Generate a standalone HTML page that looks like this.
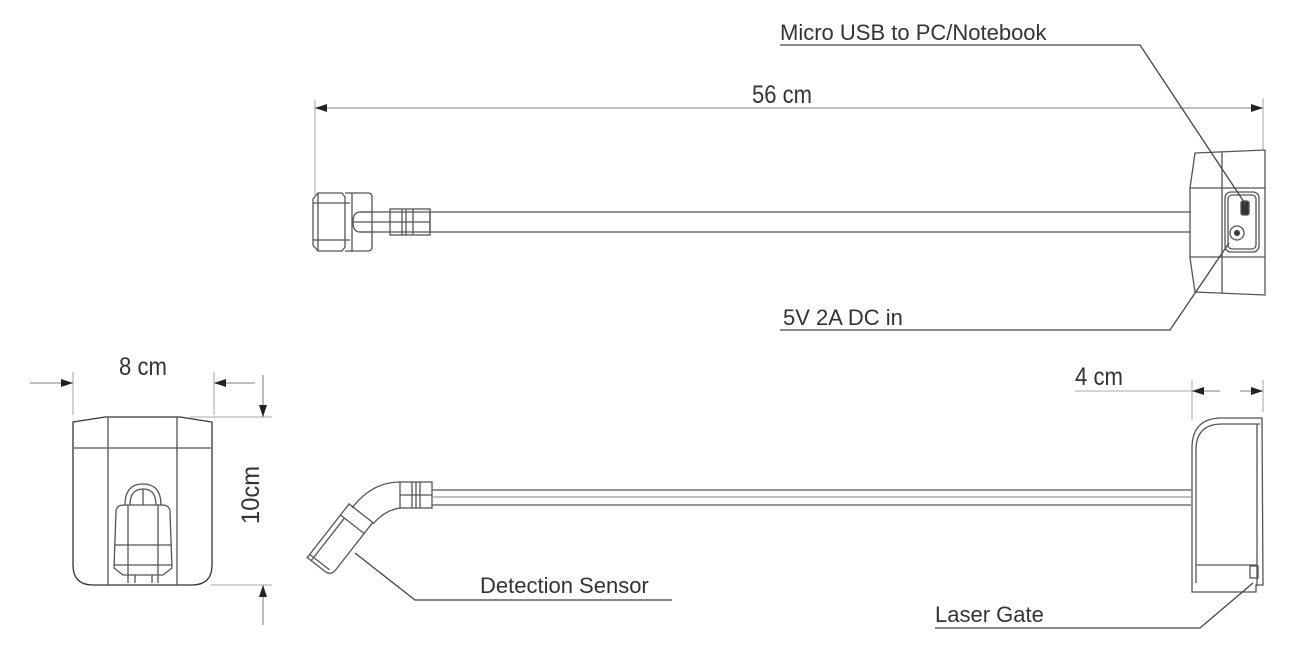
<!DOCTYPE html>
<html><head><meta charset="utf-8"><style>
html,body{margin:0;padding:0;background:#fff;width:1296px;height:646px;overflow:hidden}
text{font-family:"Liberation Sans",sans-serif;font-size:22px;fill:#333}
.d{font-size:25px}
</style></head><body>
<svg width="1296" height="646" viewBox="0 0 1296 646" xmlns="http://www.w3.org/2000/svg">
<defs>
<marker id="a" markerWidth="12" markerHeight="8" refX="12" refY="4" orient="auto-start-reverse" markerUnits="userSpaceOnUse"><path d="M0,0 L12,4 L0,8 z" fill="#222"/></marker>
</defs>
<g fill="none" stroke="#555" stroke-width="1.3">
<line x1="315" y1="100" x2="315" y2="195" stroke="#bbb"/>
<line x1="1263" y1="98" x2="1263" y2="150" stroke="#bbb"/>
<line x1="315" y1="108" x2="1263" y2="108" stroke="#999" marker-start="url(#a)" marker-end="url(#a)"/>
<path d="M318,193 L342,193 L345,197 L345,247 L342,251 L318,251 L313,245 L313,199 Z"/>
<line x1="313" y1="203" x2="350" y2="203"/><line x1="313" y1="240" x2="350" y2="240"/>
<line x1="318" y1="193" x2="318" y2="251"/><line x1="352" y1="193" x2="352" y2="252"/>
<path d="M345,193 L368,193 Q372,193 372,197 L372,247 Q372,251 368,251 L345,251"/>
<path d="M372,212 L360,212 Q353,212 353,222 Q353,232 360,232 L372,232"/>
<path d="M360,212 L430,212 L430,232 L360,232"/>
<rect x="390" y="209" width="40" height="26"/>
<line x1="402" y1="209" x2="402" y2="235"/><line x1="406" y1="209" x2="406" y2="235"/><line x1="413" y1="209" x2="413" y2="235"/>
<line x1="353" y1="222" x2="430" y2="222"/>
<line x1="430" y1="212" x2="1191" y2="212"/><line x1="430" y1="232" x2="1191" y2="232"/>
<path d="M1195,153 L1265,150 L1265,295 L1195,292 L1190,258 L1190,188 Z"/>
<line x1="1190" y1="188" x2="1265" y2="188"/><line x1="1190" y1="257" x2="1265" y2="257"/>
<line x1="1222" y1="152" x2="1222" y2="293"/>
<rect x="1225" y="192" width="34" height="60" rx="6"/>
<rect x="1228" y="195" width="28" height="54" rx="4"/>
<rect x="1241" y="201" width="8" height="14" rx="2" fill="#333"/>
<circle cx="1237" cy="233" r="7"/><circle cx="1237" cy="233" r="2.5" fill="#333"/>
<polyline points="780,45 1140,45 1246,205" stroke="#444"/>
<polyline points="780,330 1170,330 1229,243" stroke="#444"/>
<line x1="73" y1="372" x2="73" y2="415" stroke="#bbb"/>
<line x1="214" y1="372" x2="214" y2="415" stroke="#bbb"/>
<line x1="30" y1="383" x2="73" y2="383" stroke="#999" marker-end="url(#a)"/>
<line x1="255" y1="383" x2="214" y2="383" stroke="#999" marker-end="url(#a)"/>
<line x1="190" y1="417" x2="272" y2="417" stroke="#bbb"/>
<line x1="210" y1="585" x2="272" y2="585" stroke="#bbb"/>
<line x1="263" y1="375" x2="263" y2="417" stroke="#999" marker-end="url(#a)"/>
<line x1="263" y1="625" x2="263" y2="585" stroke="#999" marker-end="url(#a)"/>
<path d="M73,422 L105,417 L180,417 L212,422 L212,565 Q212,585 192,585 L93,585 Q73,585 73,565 Z" stroke="#333"/>
<line x1="74" y1="448" x2="211" y2="448"/>
<line x1="108" y1="417" x2="108" y2="585"/><line x1="177" y1="417" x2="177" y2="585"/>
<path d="M125,505 Q125,484 143,484 Q161,484 161,505"/>
<path d="M130,505 Q130,489 143,489 Q156,489 156,505"/>
<line x1="143" y1="489" x2="143" y2="505"/>
<path d="M116,512 Q116,505 124,505 L162,505 Q170,505 170,512 L172,568 L163,575 L123,575 L114,568 Z"/>
<line x1="115" y1="545" x2="171" y2="545"/><line x1="114" y1="565" x2="172" y2="565"/>
<line x1="128" y1="505" x2="128" y2="575"/><line x1="158" y1="505" x2="158" y2="575"/>
<path d="M128,575 L128,583 M135,575 L135,583 M152,575 L152,583 M158,575 L158,583"/>
<line x1="1192" y1="380" x2="1192" y2="420" stroke="#bbb"/>
<line x1="1263" y1="380" x2="1263" y2="412" stroke="#bbb"/>
<line x1="1075" y1="391" x2="1192" y2="391" stroke="#bbb"/>
<line x1="1192" y1="391" x2="1220" y2="391" stroke="#999" marker-start="url(#a)"/>
<line x1="1240" y1="391" x2="1263" y2="391" stroke="#999" marker-end="url(#a)"/>
<!-- bottom sensor elbow -->
<path d="M400,482 Q372,482 352,508"/>
<path d="M400,508 Q385,510 373,524"/>
<rect x="400" y="482" width="32" height="26"/>
<line x1="412" y1="482" x2="412" y2="508"/><line x1="416" y1="482" x2="416" y2="508"/><line x1="420" y1="482" x2="420" y2="508"/>
<line x1="400" y1="495" x2="432" y2="495"/>
<g transform="translate(340,540) rotate(-52)">
<path d="M-34,-15 L34,-15 L34,15 L-26,15 Q-34,15 -34,7 Z"/>
<line x1="20" y1="-15" x2="20" y2="15"/>
<path d="M-30,-15 L-30,10 M-34,-10 L20,-10"/>
</g>
<line x1="432" y1="490" x2="1191" y2="490"/><line x1="432" y1="505" x2="1191" y2="505"/>
<line x1="432" y1="497" x2="1191" y2="497" stroke="#999"/>
<path d="M1192,583 L1192,448 Q1192,418 1222,418 L1262,418 L1263,585 L1256,585 L1256,592 L1192,592 Z"/>
<path d="M1196,583 L1196,450 Q1196,424 1222,424 L1260,424"/>
<line x1="1257" y1="424" x2="1257" y2="586"/>
<line x1="1196" y1="565" x2="1257" y2="565"/>
<rect x="1250" y="566" width="8" height="12"/>
<polyline points="672,600 415,600 355,553" stroke="#444"/>
<polyline points="935,628 1200,628 1253,583" stroke="#444"/>
</g>
<text x="780" y="40">Micro USB to PC/Notebook</text>
<text class="d" x="752" y="103" textLength="60" lengthAdjust="spacingAndGlyphs">56 cm</text>
<text x="783" y="325">5V 2A DC in</text>
<text class="d" x="119" y="375" textLength="48" lengthAdjust="spacingAndGlyphs">8 cm</text>
<text class="d" x="1075" y="385" textLength="48" lengthAdjust="spacingAndGlyphs">4 cm</text>
<text class="d" transform="translate(259,524) rotate(-90)" textLength="58" lengthAdjust="spacingAndGlyphs">10cm</text>
<text x="480" y="593">Detection Sensor</text>
<text x="935" y="622">Laser Gate</text>
</svg>
</body></html>
